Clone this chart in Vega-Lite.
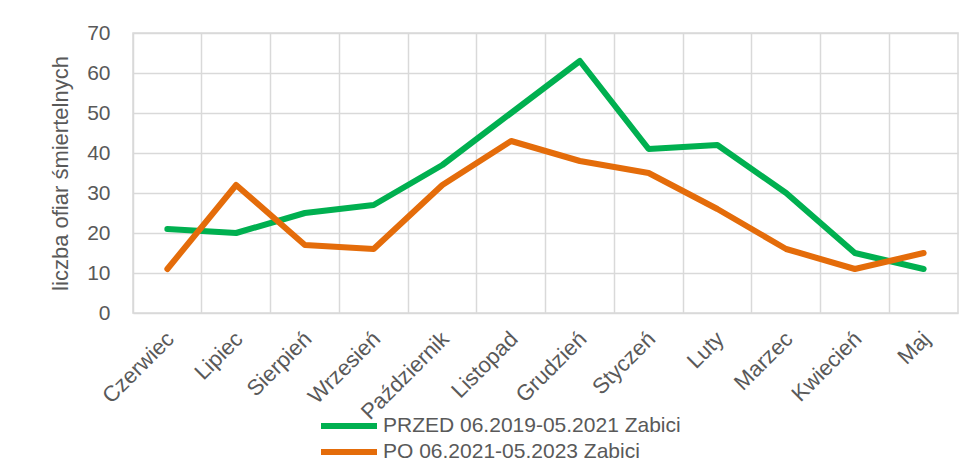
{
  "$schema": "https://vega.github.io/schema/vega-lite/v6.json",
  "width": 825,
  "height": 280,
  "autosize": {"type": "none"},
  "padding": {"left": 133, "top": 33, "right": 20, "bottom": 152},
  "background": "white",
  "config": {
    "font": "Liberation Sans",
    "view": {"stroke": "#d9d9d9", "strokeWidth": 1.5}
  },
  "data": {
    "values": [
      {"month": "Czerwiec", "series": "PRZED 06.2019-05.2021 Zabici", "value": 21},
      {"month": "Lipiec", "series": "PRZED 06.2019-05.2021 Zabici", "value": 20},
      {"month": "Sierpień", "series": "PRZED 06.2019-05.2021 Zabici", "value": 25},
      {"month": "Wrzesień", "series": "PRZED 06.2019-05.2021 Zabici", "value": 27},
      {"month": "Październik", "series": "PRZED 06.2019-05.2021 Zabici", "value": 37},
      {"month": "Listopad", "series": "PRZED 06.2019-05.2021 Zabici", "value": 50},
      {"month": "Grudzień", "series": "PRZED 06.2019-05.2021 Zabici", "value": 63},
      {"month": "Styczeń", "series": "PRZED 06.2019-05.2021 Zabici", "value": 41},
      {"month": "Luty", "series": "PRZED 06.2019-05.2021 Zabici", "value": 42},
      {"month": "Marzec", "series": "PRZED 06.2019-05.2021 Zabici", "value": 30},
      {"month": "Kwiecień", "series": "PRZED 06.2019-05.2021 Zabici", "value": 15},
      {"month": "Maj", "series": "PRZED 06.2019-05.2021 Zabici", "value": 11},
      {"month": "Czerwiec", "series": "PO 06.2021-05.2023 Zabici", "value": 11},
      {"month": "Lipiec", "series": "PO 06.2021-05.2023 Zabici", "value": 32},
      {"month": "Sierpień", "series": "PO 06.2021-05.2023 Zabici", "value": 17},
      {"month": "Wrzesień", "series": "PO 06.2021-05.2023 Zabici", "value": 16},
      {"month": "Październik", "series": "PO 06.2021-05.2023 Zabici", "value": 32},
      {"month": "Listopad", "series": "PO 06.2021-05.2023 Zabici", "value": 43},
      {"month": "Grudzień", "series": "PO 06.2021-05.2023 Zabici", "value": 38},
      {"month": "Styczeń", "series": "PO 06.2021-05.2023 Zabici", "value": 35},
      {"month": "Luty", "series": "PO 06.2021-05.2023 Zabici", "value": 26},
      {"month": "Marzec", "series": "PO 06.2021-05.2023 Zabici", "value": 16},
      {"month": "Kwiecień", "series": "PO 06.2021-05.2023 Zabici", "value": 11},
      {"month": "Maj", "series": "PO 06.2021-05.2023 Zabici", "value": 15}
    ]
  },
  "mark": {"type": "line", "strokeWidth": 6, "strokeCap": "round", "strokeJoin": "round"},
  "encoding": {
    "x": {
      "field": "month",
      "type": "nominal",
      "sort": ["Czerwiec", "Lipiec", "Sierpień", "Wrzesień", "Październik", "Listopad", "Grudzień", "Styczeń", "Luty", "Marzec", "Kwiecień", "Maj"],
      "scale": {"type": "band", "paddingInner": 0, "paddingOuter": 0},
      "bandPosition": 0.5,
      "axis": {
        "title": null,
        "bandPosition": 0,
        "grid": true,
        "gridColor": "#d9d9d9",
        "gridWidth": 1.5,
        "domain": false,
        "ticks": false,
        "labelOffset": 3,
        "labelAngle": -45,
        "labelAlign": "right",
        "labelBaseline": "middle",
        "labelPadding": 22,
        "labelFontSize": 22,
        "labelColor": "#595959",
        "labelOverlap": false,
        "labelLimit": 300
      }
    },
    "y": {
      "field": "value",
      "type": "quantitative",
      "scale": {"domain": [0, 70], "nice": false},
      "axis": {
        "title": "liczba ofiar śmiertelnych",
        "titleFontSize": 22,
        "titleFontWeight": "normal",
        "titleColor": "#595959",
        "titlePadding": 14,
        "values": [0, 10, 20, 30, 40, 50, 60, 70],
        "grid": true,
        "gridColor": "#d9d9d9",
        "gridWidth": 1.5,
        "domain": false,
        "ticks": false,
        "labelPadding": 23,
        "labelFontSize": 21,
        "labelColor": "#595959"
      }
    },
    "color": {
      "field": "series",
      "type": "nominal",
      "sort": ["PRZED 06.2019-05.2021 Zabici", "PO 06.2021-05.2023 Zabici"],
      "scale": {"domain": ["PRZED 06.2019-05.2021 Zabici", "PO 06.2021-05.2023 Zabici"], "range": ["#00b050", "#e46c0a"]},
      "legend": {
        "title": null,
        "orient": "none",
        "legendX": 203,
        "legendY": 380,
        "symbolType": "M-2.8,0H2.8",
        "symbolSize": 400,
        "symbolStrokeWidth": 6,
        "labelOffset": 21,
        "labelFontSize": 21,
        "labelColor": "#595959",
        "labelLimit": 500,
        "rowPadding": 1
      }
    }
  }
}
